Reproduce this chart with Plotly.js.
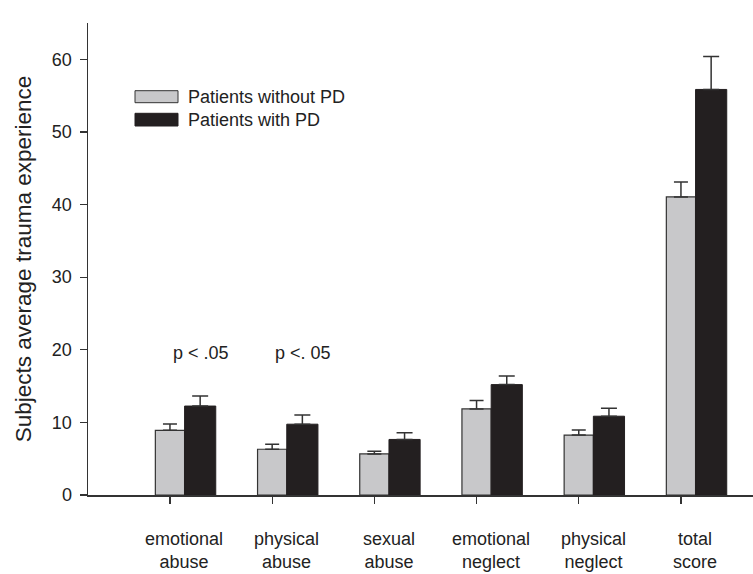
<!DOCTYPE html>
<html>
<head>
<meta charset="utf-8">
<script src="https://cdn.plot.ly/plotly-3.0.1.min.js"></script>
<style>html,body{margin:0;padding:0;background:#fff;}#chart{width:753px;height:574px;}</style>
</head>
<body>
<div id="chart"></div>
<script>
// ---- data ----
var categories = ["emotional<br>abuse", "physical<br>abuse", "sexual<br>abuse", "emotional<br>neglect", "physical<br>neglect", "total<br>score"];
var seriesNames = ["Patients without PD", "Patients with PD"];
var withoutPD = [8.9, 6.3, 5.65, 11.85, 8.25, 41.05];
var withoutPDErr = [0.88, 0.69, 0.37, 1.16, 0.69, 2.05];
var withPD = [12.25, 9.75, 7.65, 15.2, 10.85, 55.85];
var withPDErr = [1.38, 1.28, 0.92, 1.2, 1.1, 4.55];
var pLabels = [{idx: 0, text: "p < .05", y: 19.5}, {idx: 1, text: "p <. 05", y: 19.5}, {idx: 5, text: "p < .01", y: 65.9}];
var yTicks = [0, 10, 20, 30, 40, 50, 60];

var idx = categories.map(function (_, i) { return i; });
var font = "Liberation Sans, Arial, sans-serif";
var ink = "#222";

var traces = [
  {
    type: "bar", name: seriesNames[0], x: idx, y: withoutPD,
    offset: -0.143, width: 0.286,
    marker: {color: "#c8c8ca", line: {color: "#333", width: 1.2}},
    error_y: {type: "data", symmetric: false, array: withoutPDErr, arrayminus: withoutPD.map(function(){return 0;}), color: "#333", thickness: 1.5, width: 7},
    showlegend: false, hoverinfo: "none"
  },
  {
    type: "bar", name: seriesNames[1], x: idx, y: withPD,
    offset: 0.143, width: 0.305,
    marker: {color: "#231f20", line: {color: "#231f20", width: 1}},
    error_y: {type: "data", symmetric: false, array: withPDErr, arrayminus: withPD.map(function(){return 0;}), color: "#333", thickness: 1.5, width: 8},
    showlegend: false, hoverinfo: "none"
  }
];

var L = 88, R = 0, T = 23, B = 79, W = 753, H = 574;
var pw = W - L - R, ph = H - T - B;
function px(x) { return (x - L) / pw; }
function py(y) { return (H - B - y) / ph; }

var annotations = [];
categories.forEach(function (c, i) {
  annotations.push({x: i + 0.14, xref: "x", y: py(527), yref: "paper", text: c, showarrow: false,
    xanchor: "center", yanchor: "top", align: "center", font: {family: font, size: 18, color: ink}});
});
pLabels.forEach(function (p) {
  annotations.push({x: p.idx + 0.3, xref: "x", y: p.y, yref: "y", text: p.text, showarrow: false,
    xanchor: "center", yanchor: "middle", font: {family: font, size: 18, color: ink}});
});
// legend
var legRows = [{y0: 90.7, y1: 102.7, fill: "#c8c8ca", line: "#333"}, {y0: 113.3, y1: 126, fill: "#231f20", line: "#231f20"}];
var shapes = [];
legRows.forEach(function (r, k) {
  shapes.push({type: "rect", xref: "paper", yref: "paper", x0: px(135), x1: px(178), y0: py(r.y1), y1: py(r.y0),
    fillcolor: r.fill, line: {color: r.line, width: 1}});
  annotations.push({x: px(186), xref: "paper", y: py((r.y0 + r.y1) / 2), yref: "paper", text: seriesNames[k],
    showarrow: false, xanchor: "left", yanchor: "middle", font: {family: font, size: 18, color: ink}});
});

var layout = {
  width: W, height: H,
  margin: {l: L, r: R, t: T, b: B, pad: 0},
  paper_bgcolor: "#fff", plot_bgcolor: "#fff",
  barmode: "overlay",
  showlegend: false,
  font: {family: font, size: 18, color: ink},
  xaxis: {
    range: [-0.802, 5.705], showgrid: false, zeroline: false,
    showline: true, linecolor: "#333", linewidth: 1.5,
    tickmode: "array", tickvals: idx, ticktext: idx.map(function(){return "";}),
    ticks: "outside", ticklen: 7, tickwidth: 1.2, tickcolor: "#333", fixedrange: true
  },
  yaxis: {
    range: [0, 65], showgrid: false, zeroline: false,
    showline: true, linecolor: "#333", linewidth: 1.5,
    tickmode: "array", tickvals: yTicks,
    ticks: "outside", ticklen: 7, tickwidth: 1.2, tickcolor: "#333",
    ticklabelstandoff: 4,
    tickfont: {family: font, size: 18, color: ink},
    title: {text: "Subjects average trauma experience", font: {family: font, size: 22.5, color: ink}, standoff: 14},
    fixedrange: true
  },
  shapes: shapes,
  annotations: annotations
};

Plotly.newPlot("chart", traces, layout, {staticPlot: true, displayModeBar: false});
</script>
</body>
</html>
